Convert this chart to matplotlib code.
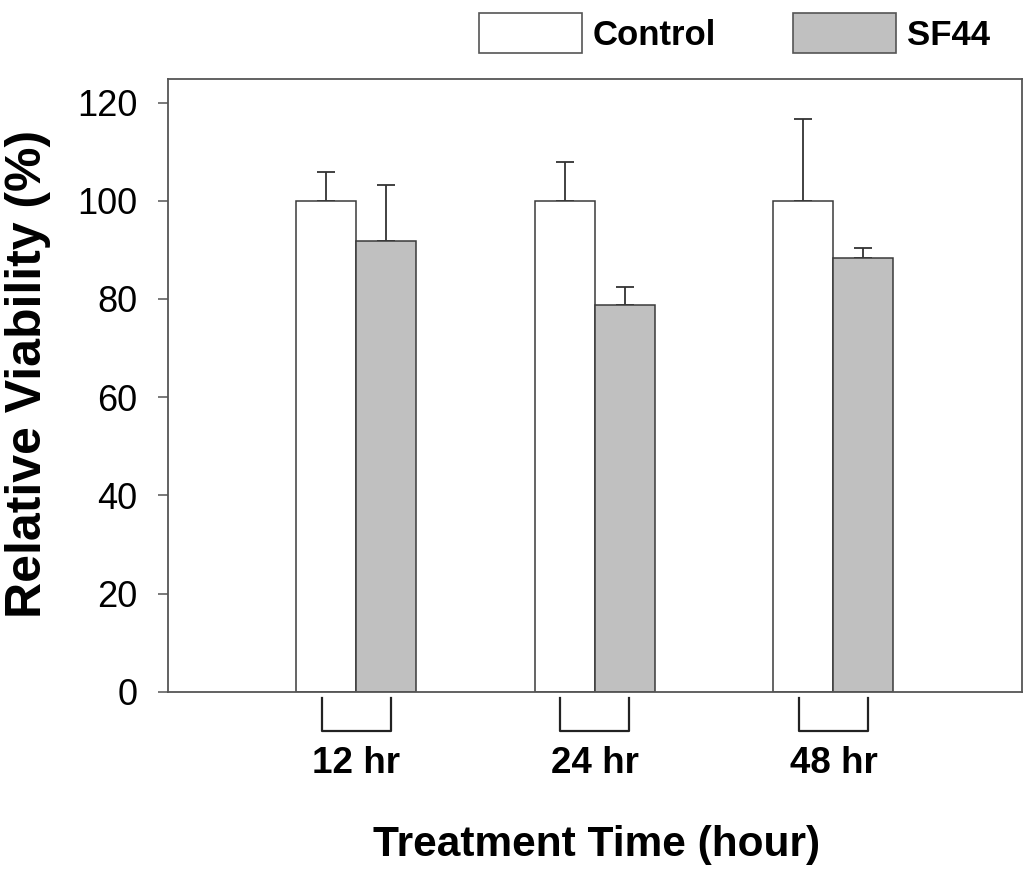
import matplotlib
matplotlib.use("Agg")
import matplotlib.pyplot as plt
import matplotlib.transforms as mtransforms
from matplotlib.patches import Patch
import numpy as np

# ---- data ----
categories = ["12 hr", "24 hr", "48 hr"]
control_mean = [100.0, 100.0, 100.0]
control_err = [5.9, 7.8, 16.6]
sf44_mean = [91.8, 78.7, 88.4]
sf44_err = [11.5, 3.7, 1.9]
series_labels = ["Control", "SF44"]
yticks = [0, 20, 40, 60, 80, 100, 120]

plt.rcParams['font.family'] = ['Liberation Sans', 'DejaVu Sans']

W, H = 1024, 872
fig = plt.figure(figsize=(W / 100, H / 100), dpi=100)
ax = fig.add_axes([168 / W, 1 - 691.7 / H, (1021.7 - 168) / W, (691.7 - 79) / H])

x = np.arange(len(categories))
bw = 0.2515
edge = "#3a3a3a"
ax.bar(x - bw / 2, control_mean, bw, color="white", edgecolor=edge, linewidth=1.1, zorder=2)
ax.bar(x + bw / 2, sf44_mean, bw, color="#c0c0c0", edgecolor=edge, linewidth=1.1, zorder=2)

zeros = np.zeros(len(categories))
ax.errorbar(x - bw / 2, control_mean, yerr=[zeros, control_err], fmt="none",
            ecolor="#333333", elinewidth=1.3, capsize=6.5, capthick=1.3, zorder=1)
ax.errorbar(x + bw / 2, sf44_mean, yerr=[zeros, sf44_err], fmt="none",
            ecolor="#333333", elinewidth=1.3, capsize=6.5, capthick=1.3, zorder=1)

ax.set_xlim(-0.789, 2.789)
ax.set_ylim(0, 124.8)
ax.set_yticks(yticks)
ax.set_yticklabels([str(t) for t in yticks], fontsize=26)
ax.tick_params(axis="y", direction="out", length=7.2, width=1.1, color="#555555", pad=15)

# category ticks: labels only, with bracket marks below axis
ax.set_xticks(x)
ax.set_xticklabels(categories, fontsize=26.5, fontweight="bold")
ax.tick_params(axis="x", length=0, pad=39)

trans = mtransforms.blended_transform_factory(ax.transData, ax.transAxes)
half = 0.144
ytop = -(697.7 - 691.7) / (691.7 - 79)
ybot = -(730.7 - 691.7) / (691.7 - 79)
for xi in x:
    ax.plot([xi - half, xi - half, xi + half, xi + half], [ytop, ybot, ybot, ytop],
            color="#222222", lw=1.6, transform=trans, clip_on=False)

for s in ax.spines.values():
    s.set_color("#555555")
    s.set_linewidth(1.3)

fig.text(28 / W, 1 - 374 / H, "Relative Viability (%)", rotation=90,
         ha="center", va="center", fontsize=36, fontweight="bold")
fig.text(597 / W, 1 - 856 / H, "Treatment Time (hour)", ha="center", va="baseline",
         fontsize=30.5, fontweight="bold")

handles = [Patch(facecolor="white", edgecolor="#555555", linewidth=1.2),
           Patch(facecolor="#c0c0c0", edgecolor="#555555", linewidth=1.2)]
fs = 25
px = fs * 100 / 72
fig.legend(handles, series_labels, loc="upper left",
           bbox_to_anchor=(479 / W, 1 - 12.7 / H), ncol=2, frameon=False,
           prop={"size": fs, "weight": "bold"}, handlelength=103 / px, handleheight=1.42,
           handletextpad=11 / px, columnspacing=77 / px, borderpad=0, borderaxespad=0)

fig.savefig("out.png", dpi=100)
